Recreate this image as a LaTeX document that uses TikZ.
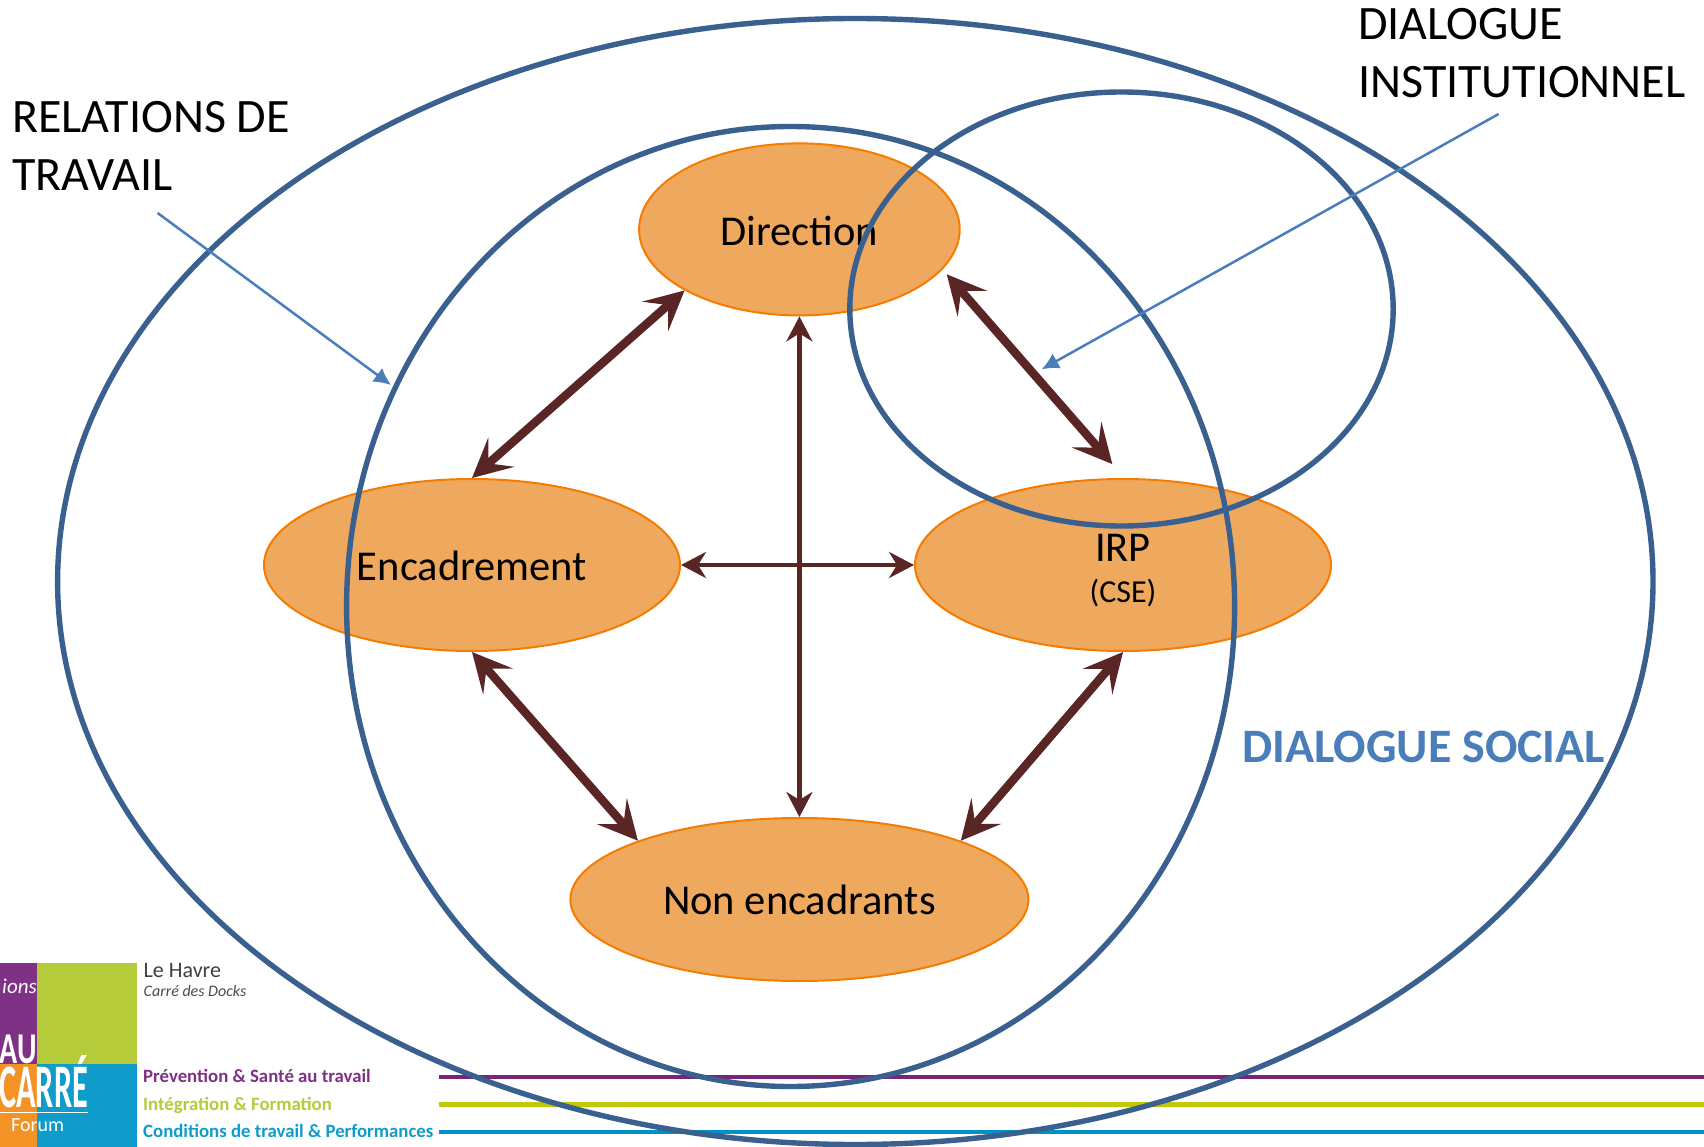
\documentclass[tikz,border=0pt]{standalone}
\usepackage{fontspec}
\setmainfont{Carlito}
\usetikzlibrary{arrows.meta,shapes.geometric}
\definecolor{ringblue}{HTML}{3A6090}
\definecolor{ptrblue}{HTML}{4A7EBB}
\definecolor{fillor}{HTML}{EEA95F}
\definecolor{lineor}{HTML}{F57C00}
\definecolor{dkbrown}{HTML}{5A2525}
\definecolor{lpurple}{HTML}{7F3285}
\definecolor{lgreen}{HTML}{B5CB3A}
\definecolor{lcyan}{HTML}{0F9CCB}
\definecolor{lorange}{HTML}{F39325}
\definecolor{spurple}{HTML}{7B2477}
\definecolor{sgreen}{HTML}{BFC90A}
\definecolor{scyan}{HTML}{0090C8}
\tikzset{
  actor/.style={ellipse,draw=lineor,fill=fillor,line width=2pt,inner sep=0pt,text=black,font=\fontsize{42.5}{50}\selectfont},
  ring/.style={draw=ringblue,line width=5.4pt},
  bigarrow/.style={draw=dkbrown,line width=8.5pt,{Stealth[length=39pt,width=39pt,inset=17pt]}-{Stealth[length=39pt,width=39pt,inset=17pt]}},
  thinarrow/.style={draw=dkbrown,line width=4.5pt,{Stealth[length=25pt,width=26pt,inset=8pt]}-{Stealth[length=25pt,width=26pt,inset=8pt]}},
  pointer/.style={draw=ptrblue,line width=2.5pt,-{Latex[length=17pt,width=17pt]}},
  label/.style={anchor=west,align=left,inner sep=0pt,text=black,font=\fontsize{48}{58.6}\selectfont},
  stripe/.style={line width=4.5pt},
  tagline/.style={anchor=base west,inner sep=0pt,font=\fontsize{18.8}{23}\bfseries\selectfont},
  logotext/.style={inner sep=0pt,text=white},
}
\begin{document}
\begin{tikzpicture}[x=1pt,y=-1pt]
\useasboundingbox (0,0) rectangle (1704,1147);
\fill[white] (0,0) rectangle (1704,1147);
% logo
\fill[lpurple] (0,963) rectangle (37,1064);
\fill[lgreen] (37,963) rectangle (137,1064);
\fill[lcyan] (37,1064) rectangle (137,1147);
\fill[lorange] (0,1064) rectangle (37,1147);
\node[logotext,anchor=west,font=\fontsize{21}{25}\itshape\selectfont] (lg1) at (2,986) {ions};
\node[logotext,anchor=base east,font=\fontsize{44}{50}\bfseries\selectfont,xscale=.68] (lg2) at (37,1063) {AU};
\node[logotext,anchor=base east,font=\fontsize{62}{70}\bfseries\selectfont,xscale=.52] (lg3) at (88,1107) {CARRÉ};
\draw[white,line width=1pt] (0,1112) -- (88,1112);
\node[logotext,anchor=west,font=\fontsize{20}{24}\selectfont] (lg4) at (11,1125) {Forum};
\node[anchor=west,inner sep=0pt,text=black!75,font=\fontsize{22}{26}\selectfont] (lh) at (143.5,971) {Le Havre};
\node[anchor=west,inner sep=0pt,text=black!70,font=\fontsize{16}{20}\itshape\selectfont] (lc) at (143.5,991) {Carré des Docks};
\node[tagline,text=lpurple] (t1) at (143,1082.7) {Prévention \& Santé au travail};
\node[tagline,text=lgreen] (t2) at (143,1110) {Intégration \& Formation};
\node[tagline,text=lcyan] (t3) at (143,1137) {Conditions de travail \& Performances};
\draw[stripe,spurple] (439,1077) -- (1704,1077);
\draw[stripe,sgreen] (439,1104.3) -- (1704,1104.3);
\draw[stripe,scyan] (439,1132) -- (1704,1132);
% actors
\node[actor,minimum width=320.6pt,minimum height=172pt] (dir) at (799.4,229.4) {\rule{0pt}{33pt}Direction};
\node[actor,minimum width=416pt,minimum height=172pt] (enc) at (472,565) {\rule{0pt}{32pt}Encadrement};
\node[actor,minimum width=416pt,minimum height=172pt,align=center] (irp) at (1123,565) {\rule{0pt}{38.7pt}IRP\\[-8.3pt]{\fontsize{32}{36}\selectfont (CSE)}};
\node[actor,minimum width=458pt,minimum height=163pt] (non) at (799.4,899.5) {Non encadrants};
% connectors
\draw[bigarrow] (dir.208) -- (enc.north);
\draw[bigarrow] ([xshift=7pt,yshift=-2pt]dir.-17) -- ([yshift=14pt]irp.97);
\draw[bigarrow] (enc.south) -- (non.160);
\draw[bigarrow] (irp.south) -- (non.20);
\draw[thinarrow] (dir.south) -- (non.north);
\draw[thinarrow] (enc.east) -- (irp.west);
% rings
\draw[ring] (855.3,581.5) ellipse [x radius=797.7,y radius=563];
\draw[ring] (790.6,606.5) ellipse [x radius=444,y radius=480];
\draw[ring] (1121.5,309) ellipse [x radius=271.7,y radius=217];
% labels
\node[label] (rel) at (12,146) {RELATIONS DE\\TRAVAIL};
\node[label] (ins) at (1358,53) {DIALOGUE\\INSTITUTIONNEL};
\node[anchor=west,inner sep=0pt,text=ptrblue,font=\fontsize{48}{56}\bfseries\selectfont] (soc) at (1242,747) {DIALOGUE SOCIAL};
\coordinate (relstart) at (157.6,213);
\coordinate (relend) at (391,385);
\coordinate (insstart) at (1498.6,114);
\coordinate (insend) at (1041.7,369.3);
\draw[pointer] (relstart) -- (relend);
\draw[pointer] (insstart) -- (insend);
\end{tikzpicture}
\end{document}
